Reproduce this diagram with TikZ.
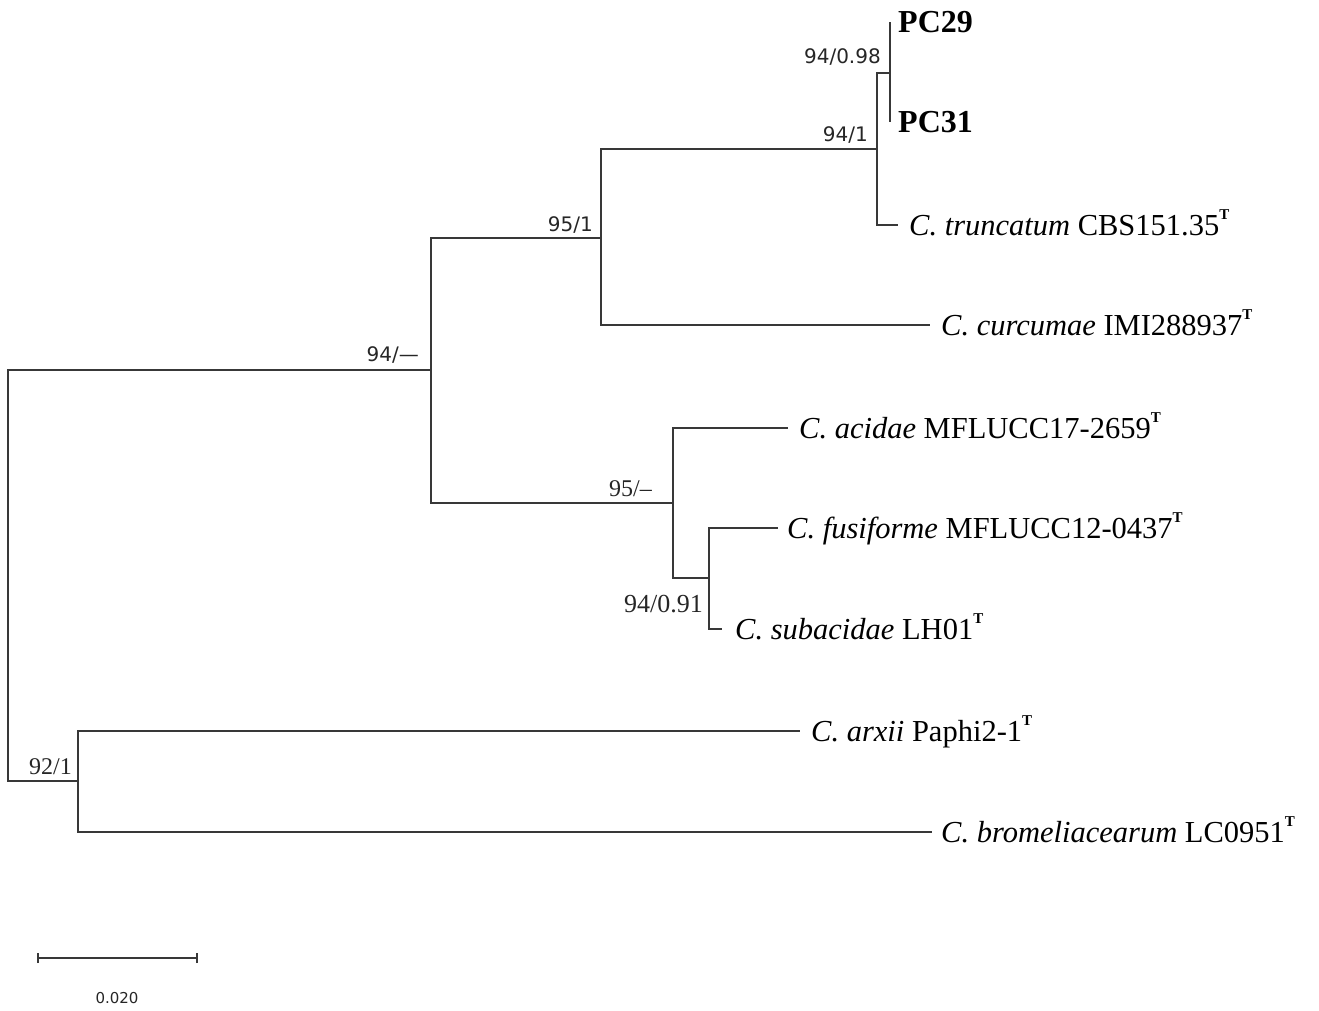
\documentclass[tikz,border=0pt]{standalone}
\usepackage{fontspec}
\setmainfont{Liberation Serif}
\newfontfamily\lsans{DejaVu Sans}
\newcommand{\typeT}{\raisebox{0.5em}{\fontsize{15}{15}\selectfont\bfseries T}}
\begin{document}
\begin{tikzpicture}[x=1pt,y=-1pt,
  br/.style={line width=1.4pt,draw=black!78},
  leaf/.style={anchor=base west,inner sep=0pt,font=\fontsize{30.5}{30.5}\selectfont},
  bold leaf/.style={anchor=base west,inner sep=0pt,font=\fontsize{32}{32}\selectfont\bfseries},
  bss/.style={anchor=base east,inner sep=0pt,font=\lsans\fontsize{20}{20}\selectfont,text=black!85},
  bsr/.style={anchor=base east,inner sep=0pt,font=\fontsize{24}{24}\selectfont,text=black!85}]
\useasboundingbox (0,0) rectangle (1319,1010);
% internal nodes
\coordinate (R) at (8,575);
\coordinate (A) at (431,370);
\coordinate (B) at (78,781);
\coordinate (C) at (601,238);
\coordinate (D) at (673,503);
\coordinate (E) at (877,149);
\coordinate (F) at (890,73);
\coordinate (G) at (709,578);
% tips
\coordinate (tPC29) at (890,22);
\coordinate (tPC31) at (890,122);
\coordinate (ttrun) at (898,225);
\coordinate (tcurc) at (930,325);
\coordinate (tacid) at (788,428);
\coordinate (tfusi) at (778,528);
\coordinate (tsuba) at (722,629);
\coordinate (tarxi) at (800,731);
\coordinate (tbrom) at (932,832);
% branches
\draw[br] (R) |- (A);
\draw[br] (R) |- (B);
\draw[br] (A) |- (C);
\draw[br] (A) |- (D);
\draw[br] (C) |- (E);
\draw[br] (C) |- (tcurc);
\draw[br] (E) |- (F);
\draw[br] (E) |- (ttrun);
\draw[br] (F) -- (tPC29);
\draw[br] (F) -- (tPC31);
\draw[br] (D) |- (tacid);
\draw[br] (D) |- (G);
\draw[br] (G) |- (tfusi);
\draw[br] (G) |- (tsuba);
\draw[br] (B) |- (tarxi);
\draw[br] (B) |- (tbrom);
% leaf labels
\node[bold leaf] (lPC29) at (898,32) {PC29};
\node[bold leaf] (lPC31) at (898,132) {PC31};
\node[leaf] (ltrun) at (909,235) {\textit{C. truncatum} CBS151.35\typeT};
\node[leaf] (lcurc) at (941,335) {\textit{C. curcumae} IMI288937\typeT};
\node[leaf] (lacid) at (799,438) {\textit{C. acidae} MFLUCC17-2659\typeT};
\node[leaf] (lfusi) at (787,538) {\textit{C. fusiforme} MFLUCC12-0437\typeT};
\node[leaf] (lsuba) at (735,639) {\textit{C. subacidae} LH01\typeT};
\node[leaf] (larxi) at (811,741) {\textit{C. arxii} Paphi2-1\typeT};
\node[leaf] (lbrom) at (941,842) {\textit{C. bromeliacearum} LC0951\typeT};
% support values
\node[bss] (sF) at (881,63) {94/0.98};
\node[bss] (sE) at (868,141) {94/1};
\node[bss] (sC) at (593,231) {95/1};
\node[bss] (sA) at (419,361) {94/—};
\node[bsr] (sD) at (652,496) {95/–};
\node[bsr,font=\fontsize{26}{26}\selectfont] (sG) at (703,612) {94/0.91};
\node[bsr] (sB) at (72,774) {92/1};
% scale bar
\coordinate (s1) at (38,958);
\coordinate (s2) at (197,958);
\draw[br,line width=1.2pt] (s1) -- (s2);
\draw[br,line width=1.2pt] ([yshift=-5pt]s1) -- ([yshift=5pt]s1);
\draw[br,line width=1.2pt] ([yshift=-5pt]s2) -- ([yshift=5pt]s2);
\node[inner sep=0pt,font=\lsans\fontsize{15}{15}\selectfont,text=black!85] (sl) at (117,998) {0.020};
\end{tikzpicture}
\end{document}
